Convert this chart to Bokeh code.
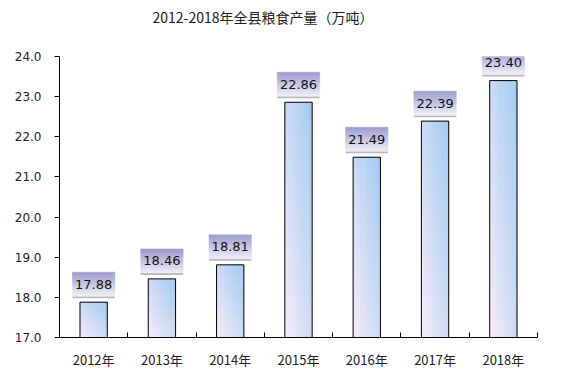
from bokeh.plotting import figure
from bokeh.models import Range1d, FixedTicker, NumeralTickFormatter, Title
from bokeh.core.properties import value
from bokeh.embed import file_html
from bokeh.resources import INLINE

years = ["2012年", "2013年", "2014年", "2015年", "2016年", "2017年", "2018年"]
output = [17.88, 18.46, 18.81, 22.86, 21.49, 22.39, 23.40]
y_ticks = [17, 18, 19, 20, 21, 22, 23, 24]
title_text = "2012-2018年全县粮食产量（万吨）"

Y0, Y1 = 17.0, 24.0
BL, BR, BT, BB = 59, 33, 56, 38
FRW, FRH = 478, 281
FW, FH = BL + FRW + BR, BT + FRH + BB
PX = (Y1 - Y0) / FRH  # data units per screen pixel (y)

p = figure(width=FW, height=FH, output_backend="svg", toolbar_location=None,
           x_range=Range1d(0, len(years)), y_range=Range1d(Y0, Y1),
           title_location=None,
           min_border_left=BL, min_border_right=BR, min_border_top=BT, min_border_bottom=BB)
p.outline_line_color = None
p.grid.visible = False
p.background_fill_color = "white"

# spacer (closest to the frame), then the visible title
p.add_layout(Title(text=" ", text_font_size="1px", standoff=27), "above")
p.add_layout(Title(text=title_text, align="left", offset=93, standoff=0,
                   text_font="Noto Sans CJK SC", text_font_style="normal",
                   text_font_size="14px", text_color="#222222"), "above")


def lerp(c0, c1, t):
    return "#%02x%02x%02x" % tuple(int(round(a + (b - a) * t)) for a, b in zip(c0, c1))

# gradient bars
pink = (248, 236, 248)
blue = (160, 202, 240)
bw = 0.4
nc, nr = 8, 16
L, R, B, T, C = [], [], [], [], []
for i, v in enumerate(output):
    cx = i + 0.5
    for j in range(nc):
        for k in range(nr):
            L.append(cx - bw / 2 + bw * j / nc)
            R.append(cx - bw / 2 + bw * (j + 1) / nc)
            B.append(Y0 + (v - Y0) * k / nr)
            T.append(Y0 + (v - Y0) * (k + 1) / nr)
            t = ((j + 0.5) / nc + (k + 0.5) / nr) / 2
            C.append(lerp(pink, blue, t))
p.quad(left=L, right=R, bottom=B, top=T, fill_color=C, line_color=C, line_width=0.5)
p.vbar(x=[i + 0.5 for i in range(len(years))], top=output, bottom=Y0, width=bw,
       fill_alpha=0, line_color="black", line_width=1)

# label boxes with gradient
box_top = (154, 154, 206)
box_bot = (240, 240, 250)
hw = 0.31
gap, bh, nb = 6 * PX, 24 * PX, 12
L2, R2, B2, T2, C2 = [], [], [], [], []
sl, sr, sb, st = [], [], [], []
tx, ty = [], []
for i, v in enumerate(output):
    cx = i + 0.5
    base = v + gap
    sl.append(cx - hw); sr.append(cx + hw); sb.append(base - 2 * PX); st.append(base)
    for k in range(nb):
        L2.append(cx - hw); R2.append(cx + hw)
        B2.append(base + bh * k / nb); T2.append(base + bh * (k + 1) / nb)
        C2.append(lerp(box_bot, box_top, (k + 0.5) / nb))
    tx.append(cx); ty.append(base + bh / 2)
p.quad(left=sl, right=sr, bottom=sb, top=st, fill_color="#b8b8b8", line_color=None)
p.quad(left=L2, right=R2, bottom=B2, top=T2, fill_color=C2, line_color=C2, line_width=0.5)
p.text(x=tx, y=ty, text=["%.2f" % v for v in output], text_align="center",
       text_baseline="middle", text_font=value("DejaVu Sans"), text_font_size="13px",
       text_color="#111111")

# axes
xa = p.xaxis[0]
xa.ticker = FixedTicker(ticks=[i + 0.5 for i in range(len(years))],
                        minor_ticks=list(range(0, len(years) + 1)))
xa.major_label_overrides = {i + 0.5: y for i, y in enumerate(years)}
xa.major_tick_in = 0
xa.major_tick_out = 0
xa.minor_tick_in = 5
xa.minor_tick_out = 0
xa.minor_tick_line_color = "black"
xa.axis_line_color = "black"
xa.major_label_text_font = "Noto Sans CJK SC"
xa.major_label_text_font_size = "13px"
xa.major_label_text_color = "#222222"
xa.major_label_standoff = 12

ya = p.yaxis[0]
ya.ticker = FixedTicker(ticks=y_ticks)
ya.formatter = NumeralTickFormatter(format="0.0")
ya.major_tick_in = 0
ya.major_tick_out = 5
ya.minor_tick_line_color = None
ya.axis_line_color = "black"
ya.major_tick_line_color = "black"
ya.major_label_text_font = "DejaVu Sans"
ya.major_label_text_font_size = "12px"
ya.major_label_text_color = "#222222"
ya.major_label_standoff = 13

open("out.html", "w").write(file_html(p, INLINE))
